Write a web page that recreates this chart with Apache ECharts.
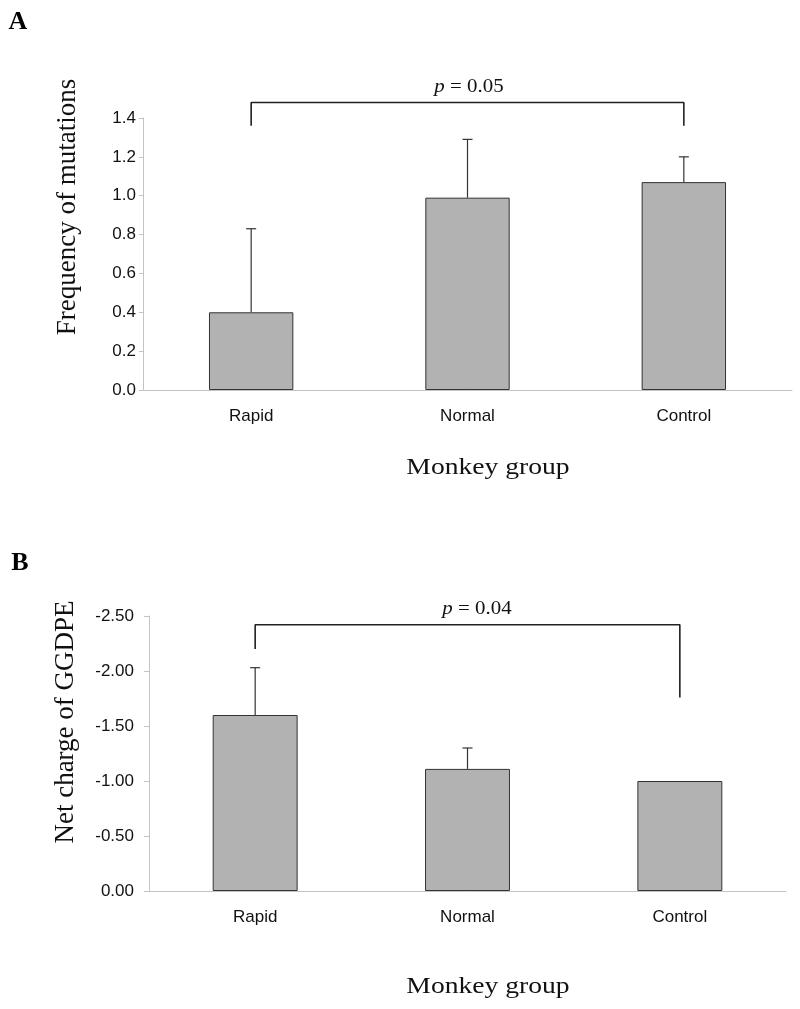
<!DOCTYPE html>
<html>
<head>
<meta charset="utf-8">
<script src="https://cdn.jsdelivr.net/npm/echarts@6/dist/echarts.min.js"></script>
<style>
html,body{margin:0;padding:0;background:#fff;}
#chart{width:800px;height:1009px;}
</style>
</head>
<body>
<div id="chart"></div>
<script>
const categories = ['Rapid', 'Normal', 'Control'];
// Panel A: frequency of mutations
const freqMeans = [0.40, 0.99, 1.07];
const freqErrTop = [0.83, 1.29, 1.20];
const freqBracket = [[0, 1.36], [0, 1.48], [2, 1.48], [2, 1.36]];
// Panel B: net charge of GGDPE
const chargeMeans = [-1.60, -1.11, -1.00];
const chargeErrTop = [-2.03, -1.30, null];
const chargeBracket = [[0, -2.20], [0, -2.42], [2, -2.42], [2, -1.76]];

const pLabelA = 'p';
const pValueA = ' = 0.05';
const pLabelB = 'p';
const pValueB = ' = 0.04';

const axisGray = '#c4c4c4';
const labelFont = {fontFamily: 'Liberation Sans, Arial, sans-serif', fontSize: 17, color: '#111'};
const serif = 'Liberation Serif, Times New Roman, serif';

function errData(means, tops) {
  const out = [];
  means.forEach((m, i) => { if (tops[i] !== null) out.push([i, m, tops[i]]); });
  return out;
}

function errRender(params, api) {
  const base = api.coord([api.value(0), api.value(1)]);
  const top = api.coord([api.value(0), api.value(2)]);
  const st = {stroke: '#333', lineWidth: 1.2};
  return {type: 'group', children: [
    {type: 'line', shape: {x1: base[0], y1: base[1], x2: top[0], y2: top[1]}, style: st},
    {type: 'line', shape: {x1: top[0] - 5, y1: top[1], x2: top[0] + 5, y2: top[1]}, style: st}
  ]};
}

const chart = echarts.init(document.getElementById('chart'), null, {renderer: 'canvas'});

const xAxisCommon = {
  type: 'category',
  data: categories,
  axisLine: {lineStyle: {color: axisGray, width: 1}},
  axisTick: {length: 5, lineStyle: {color: axisGray}},
  axisLabel: Object.assign({margin: 18}, labelFont)
};

chart.setOption({
  animation: false,
  backgroundColor: '#fff',
  grid: [
    {left: 143, right: 8, top: 118, bottom: 619},
    {left: 149, right: 14, top: 616, bottom: 118}
  ],
  xAxis: [
    Object.assign({gridIndex: 0}, xAxisCommon),
    Object.assign({gridIndex: 1}, xAxisCommon)
  ],
  yAxis: [
    {
      gridIndex: 0, type: 'value', min: 0, max: 1.4, interval: 0.2,
      splitLine: {show: false},
      axisLine: {show: true, lineStyle: {color: axisGray}},
      axisTick: {show: true, length: 4, lineStyle: {color: axisGray}},
      axisLabel: Object.assign({margin: 7, formatter: v => v.toFixed(1)}, labelFont)
    },
    {
      gridIndex: 1, type: 'value', min: -2.5, max: 0, interval: 0.5, inverse: true,
      splitLine: {show: false},
      axisLine: {show: true, lineStyle: {color: axisGray}},
      axisTick: {show: true, length: 5, lineStyle: {color: axisGray}},
      axisLabel: Object.assign({margin: 15, formatter: v => (v === 0 ? 0 : v).toFixed(2)}, labelFont)
    }
  ],
  series: [
    {
      type: 'bar', xAxisIndex: 0, yAxisIndex: 0, data: freqMeans, barWidth: '39%',
      itemStyle: {color: '#b2b2b2', borderColor: '#333', borderWidth: 1}
    },
    {
      type: 'custom', xAxisIndex: 0, yAxisIndex: 0, data: errData(freqMeans, freqErrTop),
      encode: {x: 0, y: [1, 2]}, renderItem: errRender, z: 5, clip: false
    },
    {
      type: 'line', xAxisIndex: 0, yAxisIndex: 0, data: freqBracket, symbol: 'none', clip: false,
      lineStyle: {color: '#222', width: 1.6}, z: 6
    },
    {
      type: 'bar', xAxisIndex: 1, yAxisIndex: 1, data: chargeMeans, barWidth: '40%',
      itemStyle: {color: '#b2b2b2', borderColor: '#333', borderWidth: 1}
    },
    {
      type: 'custom', xAxisIndex: 1, yAxisIndex: 1, data: errData(chargeMeans, chargeErrTop),
      encode: {x: 0, y: [1, 2]}, renderItem: errRender, z: 5, clip: false
    },
    {
      type: 'line', xAxisIndex: 1, yAxisIndex: 1, data: chargeBracket, symbol: 'none', clip: false,
      lineStyle: {color: '#222', width: 1.6}, z: 6
    }
  ],
  graphic: [
    {type: 'text', x: 18, y: 22, style: {text: 'A', fontFamily: serif, fontWeight: 'bold', fontSize: 26, fill: '#000', align: 'center', verticalAlign: 'middle'}},
    {type: 'text', x: 20, y: 563, style: {text: 'B', fontFamily: serif, fontWeight: 'bold', fontSize: 26, fill: '#000', align: 'center', verticalAlign: 'middle'}},
    {type: 'text', x: 68, y: 207, rotation: Math.PI / 2,
      style: {text: 'Frequency of mutations', fontFamily: serif, fontSize: 27, fill: '#111', align: 'center', verticalAlign: 'middle'}},
    {type: 'text', x: 66, y: 722, rotation: Math.PI / 2,
      style: {text: 'Net charge of GGDPE', fontFamily: serif, fontSize: 27, fill: '#111', align: 'center', verticalAlign: 'middle'}},
    {type: 'text', x: 488, y: 468, scaleX: 1.2,
      style: {text: 'Monkey group', fontFamily: serif, fontSize: 23, fill: '#111', align: 'center', verticalAlign: 'middle'}},
    {type: 'text', x: 488, y: 987, scaleX: 1.2,
      style: {text: 'Monkey group', fontFamily: serif, fontSize: 23, fill: '#111', align: 'center', verticalAlign: 'middle'}},
    {type: 'text', x: 469, y: 87, scaleX: 1.1,
      style: {text: '{i|' + pLabelA + '}{n|' + pValueA + '}', align: 'center', verticalAlign: 'middle',
        rich: {i: {fontFamily: serif, fontStyle: 'italic', fontSize: 19, fill: '#111'}, n: {fontFamily: serif, fontSize: 19, fill: '#111'}}}},
    {type: 'text', x: 477, y: 609, scaleX: 1.1,
      style: {text: '{i|' + pLabelB + '}{n|' + pValueB + '}', align: 'center', verticalAlign: 'middle',
        rich: {i: {fontFamily: serif, fontStyle: 'italic', fontSize: 19, fill: '#111'}, n: {fontFamily: serif, fontSize: 19, fill: '#111'}}}}
  ]
});
</script>
</body>
</html>
